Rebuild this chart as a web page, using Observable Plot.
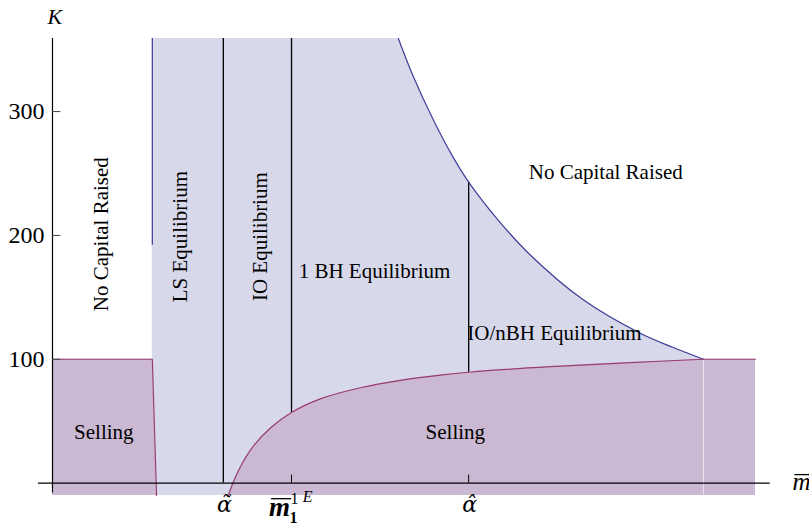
<!DOCTYPE html>
<html><head><meta charset="utf-8">
<script src="https://cdn.jsdelivr.net/npm/d3@7"></script>
<script src="https://cdn.jsdelivr.net/npm/@observablehq/plot@0.6"></script>
<style>body{margin:0;background:#fff}</style>
</head><body><div id="chart"></div>
<script>
// ---- values (x in m̄ units, K in capital units) ----
const yTicks = [100, 200, 300];
const xTickValues = [0.243, 0.340, 0.592];          // α̃, m̄¹ᴱ, α̂
const xTickNames = ["α\u0303", "m", "α\u0302"];
const xTickMarks = [0.340, 0.592];

// upper boundary ("No Capital Raised" on the right)
const capX = [0.492, 0.512, 0.542, 0.569, 0.592, 0.633, 0.680, 0.755, 0.836, 0.883, 0.926];
const capK = [359, 330, 293, 264, 243, 213, 184, 148, 121, 109.5, 100];

// lower boundary of the right "Selling" region
const sellX = [0.250, 0.258, 0.270, 0.286, 0.310, 0.340, 0.381, 0.438, 0.495, 0.552, 0.592, 0.708, 0.822, 0.926];
const sellK = [-10, 2, 16, 30, 44.5, 57, 68, 77, 83, 87.2, 89.5, 94, 97.3, 100];
const sellFlatX = [0.926, 1.0];
const sellFlatK = 100;

// left "Selling" region edge
const leftSellX = [0, 0.142, 0.148];
const leftSellK = [100, 100, -10];

// left capital boundary (blue vertical)
const lsEdgeX = 0.142;
const lsEdgeK = [192, 359];
const kTop = 359, kBottom = -10;

// equilibrium dividers
const divX = [0.243, 0.340, 0.592];
const divLow = [0, 57, 89.5];
const divHigh = [359, 359, 243];

// region labels
const regionNames = ["No Capital Raised", "LS Equilibrium", "IO Equilibrium", "1 BH Equilibrium", "No Capital Raised", "IO/nBH Equilibrium", "Selling", "Selling"];
const regionX = [0.069, 0.182, 0.296, 0.458, 0.787, 0.714, 0.073, 0.573];
const regionK = [201, 199, 199, 171, 251, 121, 41, 41];
const regionRotate = [-90, -90, -90, 0, 0, 0, 0, 0];

const blue = "#3d3d99", magenta = "#993d71";
const lavender = "#d8d8eb", pink = "#cbb9d3";

const capRows = capX.map((x, i) => ({x, K: capK[i]}));
const sellRows = sellX.map((x, i) => ({x, K: sellK[i]}));
const flatRows = sellFlatX.map(x => ({x, K: sellFlatK}));
const leftRows = leftSellX.map((x, i) => ({x, K: leftSellK[i]}));
const leftArea = [{K: kBottom, x: leftSellX[2]}, {K: 100, x: leftSellX[1]}];
const lavRect = [{x: lsEdgeX}, {x: capX[capX.length - 1]}];
const divRows = divX.map((x, i) => ({x, lo: divLow[i], hi: divHigh[i]}));
const labelRows = regionNames.map((t, i) => ({t, x: regionX[i], K: regionK[i], r: regionRotate[i]}));

const plot = Plot.plot({
  width: 809, height: 531,
  marginLeft: 52, marginRight: 54, marginTop: 38, marginBottom: 36,
  x: {domain: [0, 1], axis: null},
  y: {domain: [kBottom, kTop], axis: null},
  style: {fontFamily: "'Liberation Serif', 'Times New Roman', serif", fontSize: "21px", background: "white", color: "black", overflow: "visible"},
  marks: [
    Plot.areaY(lavRect, {x: "x", y1: kBottom, y2: kTop, fill: lavender}),
    Plot.areaY(capRows, {x: "x", y1: "K", y2: kTop, fill: "white", curve: "catmull-rom"}),
    Plot.areaY(sellRows, {x: "x", y1: kBottom, y2: "K", fill: pink, curve: "catmull-rom"}),
    Plot.areaY(flatRows, {x: "x", y1: kBottom, y2: "K", fill: pink}),
    Plot.areaX(leftArea, {y: "K", x1: 0, x2: "x", fill: pink}),
    Plot.ruleX([0.926], {y1: kBottom, y2: 100, stroke: "white", strokeOpacity: 0.6}),
    Plot.ruleX([1.0], {y1: kBottom, y2: 100, stroke: "white", strokeOpacity: 0.4}),
    Plot.ruleX(divRows, {x: "x", y1: "lo", y2: "hi", stroke: "black", strokeWidth: 1.3}),
    Plot.ruleX([lsEdgeX], {y1: lsEdgeK[0], y2: lsEdgeK[1], stroke: blue, strokeWidth: 1.2}),
    Plot.line(capRows, {x: "x", y: "K", stroke: blue, strokeWidth: 1.2, curve: "catmull-rom"}),
    Plot.line(sellRows, {x: "x", y: "K", stroke: magenta, strokeWidth: 1.2, curve: "catmull-rom"}),
    Plot.line(flatRows, {x: "x", y: "K", stroke: magenta, strokeWidth: 1.2}),
    Plot.line(leftRows, {x: "x", y: "K", stroke: magenta, strokeWidth: 1.2}),
    // axes
    Plot.ruleY([0], {x1: -0.02, x2: 1.021, stroke: "black", strokeWidth: 1.2}),
    Plot.ruleX([0], {y1: -8, y2: kTop, stroke: "black", strokeWidth: 1.2}),
    Plot.ruleY(yTicks, {x1: 0, x2: 0.012, stroke: "#444", strokeWidth: 1}),
    Plot.ruleX(xTickMarks, {y1: 0, y2: 6.5, stroke: "black", strokeWidth: 1}),
    Plot.text(yTicks, {x: 0, y: d => d, text: d => String(d), textAnchor: "end", dx: -8, fontSize: 24}),
    // x tick labels
    Plot.text([0, 2], {x: i => xTickValues[i], text: i => xTickNames[i], frameAnchor: "bottom", dx: 1, dy: 16, fontSize: 22, fontStyle: "italic", fontFamily: "DejaVu Serif"}),
    Plot.text([1], {x: i => xTickValues[i], text: i => xTickNames[i], frameAnchor: "bottom", dx: -12, dy: 20, fontSize: 27, fontStyle: "italic", fontWeight: "bold"}),
    Plot.text(["1"], {x: xTickValues[1], text: d => d, frameAnchor: "bottom", dx: 3, dy: 8, fontSize: 16}),
    Plot.text(["E"], {x: xTickValues[1], text: d => d, frameAnchor: "bottom", dx: 16, dy: 6, fontSize: 16, fontStyle: "italic"}),
    Plot.text(["1"], {x: xTickValues[1], text: d => d, frameAnchor: "bottom", dx: 2, dy: 27, fontSize: 16, fontWeight: "bold"}),
    // axis names
    Plot.text(["m"], {x: 1.0, y: 0, text: d => d, dx: 46, dy: -1, fontSize: 25, fontStyle: "italic"}),
    Plot.text(["K"], {frameAnchor: "top-left", text: d => d, dx: -5, dy: -30, fontSize: 22, fontStyle: "italic"}),
    // region labels
    Plot.text(labelRows, {x: "x", y: "K", text: "t", rotate: "r", fontSize: 21})
  ]
});
document.getElementById("chart").appendChild(plot);

// overline bars over the "m" glyphs
d3.select(plot).selectAll("text").filter(function() { return this.textContent === "m"; })
  .each(function() {
    const b = this.getBBox();
    const m = plot.getCTM().inverse().multiply(this.getCTM());
    const p1 = plot.createSVGPoint(); p1.x = b.x; p1.y = b.y;
    const p2 = plot.createSVGPoint(); p2.x = b.x + b.width; p2.y = b.y;
    const a = p1.matrixTransform(m), c = p2.matrixTransform(m);
    const yy = a.y + b.height * 0.24;
    d3.select(plot).append("line")
      .attr("x1", a.x + 2).attr("x2", c.x + 1)
      .attr("y1", yy).attr("y2", yy)
      .attr("stroke", "black").attr("stroke-width", 1.3);
  });
</script>
</body></html>
